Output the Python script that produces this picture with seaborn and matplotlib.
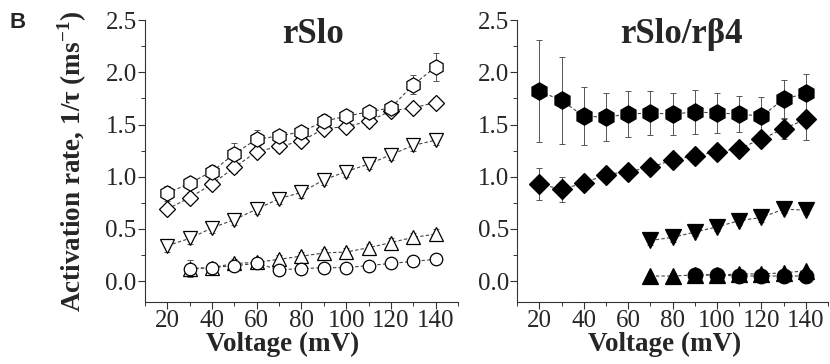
import numpy as np
import matplotlib
matplotlib.use("Agg")
import matplotlib.pyplot as plt
from matplotlib.ticker import MultipleLocator
import seaborn as sns

sns.set_theme(style="ticks")
plt.rcParams['font.family'] = ['Liberation Serif', 'DejaVu Serif']
plt.rcParams['mathtext.fontset'] = 'custom'
plt.rcParams['mathtext.rm'] = 'Liberation Serif'
plt.rcParams['mathtext.bf'] = 'Liberation Serif:bold'

# ---- data: rSlo (open symbols) ----
v_all = [20, 30, 40, 50, 60, 70, 80, 90, 100, 110, 120, 130, 140]
v_30 = [30, 40, 50, 60, 70, 80, 90, 100, 110, 120, 130, 140]

slo_hex = [0.84, 0.94, 1.05, 1.22, 1.36, 1.39, 1.43, 1.53, 1.58, 1.62, 1.66, 1.88, 2.05]
slo_hex_err = [0.07, 0.06, 0.06, 0.10, 0.09, 0.06, 0.06, 0.07, 0.05, 0.05, 0.04, 0.09, 0.13]
slo_dia = [0.69, 0.80, 0.93, 1.09, 1.24, 1.29, 1.34, 1.46, 1.48, 1.53, 1.63, 1.66, 1.71]
slo_dia_err = [0.05, 0.05, 0.05, 0.05, 0.05, 0.05, 0.05, 0.05, 0.05, 0.05, 0.04, 0.05, 0.05]
slo_dn = [0.34, 0.41, 0.51, 0.59, 0.69, 0.79, 0.85, 0.97, 1.05, 1.12, 1.21, 1.30, 1.35]
slo_dn_err = [0.06, 0.05, 0.05, 0.05, 0.05, 0.05, 0.05, 0.05, 0.05, 0.05, 0.05, 0.05, 0.05]
slo_up = [0.12, 0.13, 0.17, 0.18, 0.21, 0.24, 0.27, 0.28, 0.32, 0.37, 0.42, 0.45]
slo_up_err = [0.08, 0.05, 0.04, 0.04, 0.04, 0.04, 0.04, 0.04, 0.04, 0.04, 0.04, 0.05]
slo_circ = [0.12, 0.13, 0.15, 0.17, 0.11, 0.12, 0.13, 0.13, 0.15, 0.17, 0.19, 0.21]
slo_circ_err = [0.03, 0.03, 0.03, 0.03, 0.03, 0.03, 0.03, 0.03, 0.03, 0.03, 0.03, 0.03]

# ---- data: rSlo/rb4 (filled symbols) ----
v_70 = [70, 80, 90, 100, 110, 120, 130, 140]
v_90 = [90, 100, 110, 120, 130, 140]

b4_hex = [1.82, 1.73, 1.58, 1.57, 1.60, 1.61, 1.60, 1.62, 1.61, 1.60, 1.58, 1.74, 1.80]
b4_hex_err = [0.49, 0.42, 0.28, 0.23, 0.22, 0.21, 0.20, 0.21, 0.19, 0.17, 0.18, 0.19, 0.18]
b4_dia = [0.93, 0.88, 0.94, 1.02, 1.05, 1.09, 1.16, 1.20, 1.24, 1.27, 1.36, 1.46, 1.55]
b4_dia_err = [0.15, 0.12, 0.06, 0.05, 0.05, 0.05, 0.06, 0.05, 0.06, 0.06, 0.05, 0.10, 0.20]
b4_dn = [0.39, 0.42, 0.47, 0.52, 0.58, 0.61, 0.69, 0.68]
b4_dn_err = [0.04, 0.04, 0.04, 0.04, 0.04, 0.04, 0.04, 0.04]
b4_up = [0.05, 0.05, 0.06, 0.06, 0.07, 0.07, 0.08, 0.10]
b4_up_err = [0.03, 0.03, 0.03, 0.03, 0.03, 0.03, 0.03, 0.03]
b4_circ = [0.06, 0.06, 0.05, 0.05, 0.05, 0.05]
b4_circ_err = [0.02, 0.02, 0.02, 0.02, 0.02, 0.02]

fig = plt.figure(figsize=(8.3, 3.64), dpi=100)
ax1 = fig.add_axes([0.1747, 0.170, 0.377, 0.775])
ax2 = fig.add_axes([0.623, 0.170, 0.3747, 0.775])


def draw(ax, x, y, err, marker, ms, filled):
    ax.errorbar(x, y, yerr=err, fmt='none', ecolor='#555555', elinewidth=0.7,
                capsize=2.5, capthick=0.7, zorder=1)
    sns.lineplot(x=x, y=y, ax=ax, color='#444444', linestyle=(0, (3, 2)),
                 linewidth=0.8, marker=marker, markersize=ms,
                 markerfacecolor='black' if filled else 'white',
                 markeredgecolor='black', markeredgewidth=0.9, zorder=3)


draw(ax1, v_all, slo_dn, slo_dn_err, 'v', 10.5, False)
draw(ax1, v_30, slo_up, slo_up_err, '^', 10.5, False)
draw(ax1, v_30, slo_circ, slo_circ_err, 'o', 9, False)
draw(ax1, v_all, slo_dia, slo_dia_err, 'D', 8.5, False)
draw(ax1, v_all, slo_hex, slo_hex_err, 'h', 11, False)

draw(ax2, v_all, b4_hex, b4_hex_err, 'h', 12.5, True)
draw(ax2, v_all, b4_dia, b4_dia_err, 'D', 10.5, True)
draw(ax2, v_70, b4_dn, b4_dn_err, 'v', 11.5, True)
draw(ax2, v_70, b4_up, b4_up_err, '^', 11, True)
draw(ax2, v_90, b4_circ, b4_circ_err, 'o', 10.5, True)

for ax in (ax1, ax2):
    ax.set_xlim(10, 150)
    ax.set_ylim(-0.2, 2.5)
    ax.xaxis.set_major_locator(MultipleLocator(20))
    ax.xaxis.set_minor_locator(MultipleLocator(10))
    ax.yaxis.set_major_locator(MultipleLocator(0.5))
    ax.yaxis.set_minor_locator(MultipleLocator(0.25))
    ax.yaxis.set_major_formatter(matplotlib.ticker.FormatStrFormatter('%.1f'))
    sns.despine(ax=ax)
    for s in ('left', 'bottom'):
        ax.spines[s].set_linewidth(0.8)
        ax.spines[s].set_color('#333333')
    ax.tick_params(which='major', direction='out', length=5, width=0.8,
                   labelsize=18, pad=1, color='#333333')
    ax.tick_params(which='minor', direction='out', length=3, width=0.7,
                   color='#333333')
    ax.set_xlabel('Voltage (mV)', fontsize=19.5, fontweight='bold')
    ax.set_ylabel('')

ax1.xaxis.set_label_coords(0.44, -0.105)
ax2.xaxis.set_label_coords(0.475, -0.105)

ax1.set_ylabel(r'Activation rate, 1/τ (ms$^{\mathbf{-1}}$)', fontsize=19.5,
               fontweight='bold', labelpad=12)

ax1.text(85, 2.28, 'rSlo', ha='center', va='baseline', fontsize=25,
         fontweight='bold')
ax2.text(84, 2.28, 'rSlo/rβ4', ha='center', va='baseline', fontsize=25,
         fontweight='bold')

fig.text(0.012, 0.967, 'B', family='Liberation Sans', fontweight='bold',
         fontsize=16, va='top', ha='left')

fig.savefig('out.png', dpi=100)
